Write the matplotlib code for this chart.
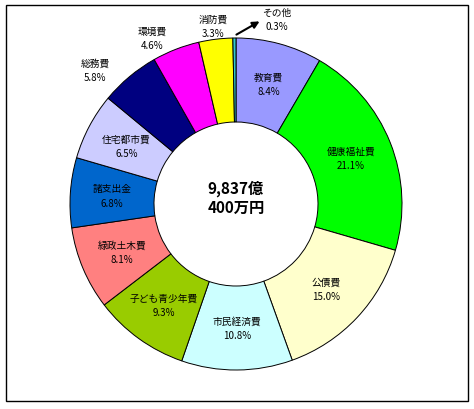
import numpy as np
import matplotlib.pyplot as plt
from matplotlib.patches import Rectangle

plt.rcParams['font.family'] = ['Noto Sans CJK JP', 'DejaVu Sans']

labels = ['教育費', '健康福祉費', '公債費', '市民経済費', '子ども青少年費', '緑政土木費',
          '諸支出金', '住宅都市費', '総務費', '環境費', '消防費', 'その他']
shares = [8.4, 21.1, 15.0, 10.8, 9.3, 8.1, 6.8, 6.5, 5.8, 4.6, 3.3, 0.3]
colors = ['#9999FF', '#00FF00', '#FFFFCC', '#CCFFFF', '#99CC00', '#FF8080',
          '#0066CC', '#CCCCFF', '#000080', '#FF00FF', '#FFFF00', '#33CCCC']
total_text = '9,837億\n400万円'

# labels drawn outside the ring (pixel positions, y from top)
outer_pos = {'総務費': (95, 71), '環境費': (152, 39), '消防費': (213, 27), 'その他': (277, 20)}

W, H = 474, 410
fig = plt.figure(figsize=(W / 100, H / 100), dpi=100)
ax = fig.add_axes([0, 0, 1, 1])
ax.set_xlim(0, W)
ax.set_ylim(0, H)
ax.axis('off')

cx, cy, R, r_in = 236, H - 205, 166, 82
wedges, _ = ax.pie(shares, colors=colors, startangle=90, counterclock=False,
                   center=(cx, cy), radius=R, frame=True,
                   wedgeprops=dict(width=R - r_in, edgecolor='black', linewidth=0.7))
ax.set_xlim(0, W)
ax.set_ylim(0, H)
ax.axis('off')

rmid = (R + r_in) / 2
for w, lab, val in zip(wedges, labels, shares):
    txt = f'{lab}\n{val:.1f}%'
    if lab in outer_pos:
        x, y = outer_pos[lab]
        y = H - y
    else:
        a = np.deg2rad((w.theta1 + w.theta2) / 2)
        x, y = cx + rmid * np.cos(a), cy + rmid * np.sin(a)
    ax.text(x, y, txt, ha='center', va='center', fontsize=7, linespacing=1.55)

# arrow to the thin "その他" slice
ax.annotate('', xy=(262, H - 21), xytext=(234, H - 37),
            arrowprops=dict(arrowstyle='-|>', color='black', lw=1.5, mutation_scale=10))

ax.text(cx, H - 198, total_text, ha='center', va='center', fontsize=11,
        fontweight='bold', linespacing=1.25)

ax.add_patch(Rectangle((6, H - 402), 462, 396, fill=False, edgecolor='black', lw=1))

fig.savefig('out.png', dpi=100)
